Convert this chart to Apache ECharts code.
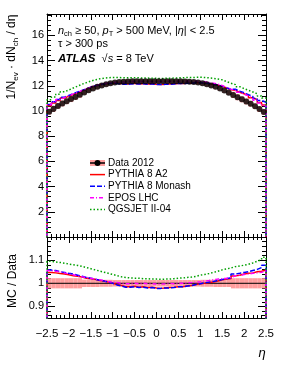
<!DOCTYPE html>
<html><head><meta charset="utf-8">
<script src="https://cdn.jsdelivr.net/npm/echarts@6/dist/echarts.min.js"></script>
<style>html,body{margin:0;padding:0;background:#fff}#c{width:283px;height:366px}</style>
</head><body><div id="c"></div>
<script>
// ---------------- data ----------------
const etaCenters = [-2.45,-2.35,-2.25,-2.15,-2.05,-1.95,-1.85,-1.75,-1.65,-1.55,-1.45,-1.35,-1.25,-1.15,-1.05,-0.95,-0.85,-0.75,-0.65,-0.55,-0.45,-0.35,-0.25,-0.15,-0.05,
  0.05,0.15,0.25,0.35,0.45,0.55,0.65,0.75,0.85,0.95,1.05,1.15,1.25,1.35,1.45,1.55,1.65,1.75,1.85,1.95,2.05,2.15,2.25,2.35,2.45];
const binHalfWidth = 0.05;
const dataVals = [9.95,10.18,10.4,10.6,10.78,10.95,11.12,11.3,11.47,11.64,11.79,11.92,12.03,12.12,12.2,12.26,12.3,12.33,12.35,12.36,12.36,12.37,12.37,12.37,12.37,
  12.37,12.37,12.37,12.37,12.36,12.36,12.35,12.33,12.3,12.26,12.2,12.12,12.03,11.92,11.79,11.62,11.45,11.28,11.1,10.93,10.76,10.58,10.38,10.15,9.92];
const dataRelErr = [0.022,0.022,0.022,0.022,0.022,0.022,0.022,0.022,0.016,0.016,0.016,0.016,0.015,0.015,0.015,0.014,0.014,0.014,0.014,0.014,0.014,0.014,0.014,0.014,0.014,
  0.014,0.014,0.014,0.014,0.014,0.014,0.014,0.014,0.014,0.014,0.015,0.015,0.015,0.016,0.016,0.016,0.016,0.022,0.022,0.022,0.022,0.022,0.022,0.022,0.022];
const ratioA2 = [1.047,1.045,1.042,1.04,1.037,1.033,1.03,1.027,1.022,1.02,1.017,1.012,1.01,1.005,1.0,0.995,0.99,0.985,0.985,0.987,0.983,0.985,0.982,0.983,0.98,
  0.978,0.98,0.982,0.983,0.985,0.985,0.988,0.99,0.995,0.998,1.0,1.003,1.006,1.01,1.015,1.018,1.02,1.032,1.035,1.04,1.043,1.045,1.05,1.052,1.057];
const ratioMonash = [1.057,1.055,1.05,1.047,1.043,1.04,1.035,1.03,1.025,1.022,1.018,1.013,1.01,1.005,1.0,0.993,0.988,0.983,0.983,0.985,0.982,0.983,0.98,0.982,0.978,
  0.978,0.98,0.98,0.982,0.985,0.985,0.988,0.99,0.995,0.998,1.002,1.005,1.008,1.012,1.016,1.02,1.024,1.04,1.043,1.047,1.05,1.055,1.06,1.068,1.078];
const ratioEPOS = [1.055,1.052,1.05,1.045,1.04,1.037,1.032,1.028,1.025,1.022,1.018,1.015,1.012,1.008,1.005,1.003,1.0,0.998,0.998,1.0,0.998,1.0,0.998,0.998,0.997,
  0.997,0.998,1.0,0.998,1.0,1.0,1.002,1.003,1.005,1.007,1.01,1.012,1.015,1.018,1.02,1.022,1.025,1.033,1.035,1.038,1.04,1.043,1.045,1.048,1.053];
const ratioQGS = [1.095,1.092,1.09,1.087,1.083,1.08,1.077,1.073,1.068,1.063,1.058,1.053,1.048,1.043,1.038,1.033,1.028,1.025,1.023,1.022,1.022,1.02,1.02,1.018,1.018,
  1.017,1.018,1.018,1.02,1.022,1.023,1.025,1.027,1.03,1.035,1.038,1.042,1.047,1.052,1.058,1.062,1.066,1.072,1.075,1.078,1.082,1.088,1.095,1.103,1.112];
const seriesNames = ['Data 2012','PYTHIA 8 A2','PYTHIA 8 Monash','EPOS LHC','QGSJET II-04'];
const topYTickLabels = [2,4,6,8,10,12,14,16];
const ratioMajorTicks = [0.9,1.0,1.1];
const ratioMinorTicks = [0.86,0.88,0.92,0.94,0.96,0.98,1.02,1.04,1.06,1.08,1.12,1.14,1.16,1.18];

// ---------------- styles ----------------
const FONT = "'Liberation Sans', Arial, sans-serif";
const PINK = '#ff9e9e';
const mcStyles = [
  {name: seriesNames[1], ratio: ratioA2, color: '#ff0000', type: 'solid'},
  {name: seriesNames[2], ratio: ratioMonash, color: '#0000ff', type: [5, 2]},
  {name: seriesNames[3], ratio: ratioEPOS, color: '#ff00ff', type: [4, 2, 1, 2]},
  {name: seriesNames[4], ratio: ratioQGS, color: '#00a000', type: [1.5, 2]}
];

function histPoints(vals) {
  const pts = [[etaCenters[0] - binHalfWidth, 0]];
  vals.forEach((v, i) => {
    pts.push([etaCenters[i] - binHalfWidth, v]);
    pts.push([etaCenters[i] + binHalfWidth, v]);
  });
  pts.push([etaCenters[etaCenters.length - 1] + binHalfWidth, 0]);
  return pts;
}
function boxItem(params, api) {
  const c = api.value(0), lo = api.value(1), hi = api.value(2);
  const p1 = api.coord([c - binHalfWidth, hi]);
  const p2 = api.coord([c + binHalfWidth, lo]);
  return {type: 'rect', shape: {x: p1[0], y: p1[1], width: p2[0] - p1[0], height: p2[1] - p1[1]},
          style: {fill: PINK}};
}

const topBox = etaCenters.map((c, i) => [c, dataVals[i] * (1 - dataRelErr[i]), dataVals[i] * (1 + dataRelErr[i])]);
const ratioBox = etaCenters.map((c, i) => [c, 1 - dataRelErr[i], 1 + dataRelErr[i]]);

const xBase = (grid, pos, labels) => ({
  type: 'value', gridIndex: grid, position: pos, min: -2.5, max: 2.5, interval: 0.5,
  axisLine: {show: true, onZero: false, lineStyle: {color: '#000', width: 1}},
  axisTick: {show: true, inside: true, length: 6, lineStyle: {color: '#000'}},
  minorTick: {show: true, splitNumber: 5, length: 3, lineStyle: {color: '#000'}},
  splitLine: {show: false},
  axisLabel: {show: labels, margin: 10, fontSize: 11.5, fontFamily: FONT, color: '#000',
    formatter: v => v < 0 ? '\u2212' + (-v) : String(v)}
});
const yTop = (pos, labels) => ({
  type: 'value', gridIndex: 0, position: pos, min: 0, max: 17.7, interval: 2,
  axisLine: {show: true, onZero: false, lineStyle: {color: '#000', width: 1}},
  axisTick: {show: true, inside: true, length: 8, lineStyle: {color: '#000'}},
  minorTick: {show: true, splitNumber: 5, length: 4, lineStyle: {color: '#000'}},
  splitLine: {show: false},
  axisLabel: {show: labels, margin: 3, fontSize: 11, fontFamily: FONT, color: '#000', showMaxLabel: false,
    formatter: v => topYTickLabels.indexOf(v) >= 0 ? String(v) : ''}
});
const yRatio = (pos, ticks, len, labels) => ({
  type: 'value', gridIndex: 1, position: pos, min: 0.85, max: 1.2,
  axisLine: {show: true, onZero: false, lineStyle: {color: '#000', width: 1}},
  axisTick: {show: true, inside: true, length: len, customValues: ticks, lineStyle: {color: '#000'}},
  splitLine: {show: false},
  axisLabel: {show: labels, customValues: ticks, margin: 3, fontSize: 11, fontFamily: FONT, color: '#000'}
});

const series = [];
// top panel
series.push({type: 'custom', xAxisIndex: 0, yAxisIndex: 0, renderItem: boxItem, data: topBox, clip: true, z: 1, silent: true});
mcStyles.forEach(m => series.push({
  type: 'line', name: m.name, xAxisIndex: 0, yAxisIndex: 0, symbol: 'none', clip: true, z: 2,
  data: histPoints(m.ratio.map((r, i) => r * dataVals[i])),
  lineStyle: {color: m.color, width: 1.5, type: m.type}
}));
series.push({type: 'scatter', name: seriesNames[0], xAxisIndex: 0, yAxisIndex: 0, symbol: 'circle', symbolSize: 6,
  itemStyle: {color: '#000'}, data: etaCenters.map((c, i) => [c, dataVals[i]]), z: 5, clip: true});
// ratio panel
series.push({type: 'custom', xAxisIndex: 2, yAxisIndex: 2, renderItem: boxItem, data: ratioBox, clip: true, z: 1, silent: true});
series.push({type: 'line', xAxisIndex: 2, yAxisIndex: 2, symbol: 'none', z: 2, data: [[-2.5, 1], [2.5, 1]],
  lineStyle: {color: '#000', width: 1}});
mcStyles.forEach(m => series.push({
  type: 'line', xAxisIndex: 2, yAxisIndex: 2, symbol: 'none', clip: true, z: 3,
  data: histPoints(m.ratio),
  lineStyle: {color: m.color, width: 1.5, type: m.type}
}));

// legend graphics
const legX = 90, legLen = 15, legTextX = 108, legY0 = 163, legDy = 11.6;
const graphics = [];
graphics.push({type: 'rect', shape: {x: legX, y: legY0 - 3, width: legLen, height: 6}, style: {fill: PINK}});
graphics.push({type: 'line', shape: {x1: legX, y1: legY0, x2: legX + legLen, y2: legY0}, style: {stroke: '#000', lineWidth: 1.5}});
graphics.push({type: 'circle', shape: {cx: legX + legLen / 2, cy: legY0, r: 3}, style: {fill: '#000'}});
mcStyles.forEach((m, i) => {
  const y = legY0 + legDy * (i + 1);
  graphics.push({type: 'line', shape: {x1: legX, y1: y, x2: legX + legLen, y2: y},
    style: {stroke: m.color, lineWidth: 1.5, lineDash: m.type === 'solid' ? null : m.type}});
});
seriesNames.forEach((n, i) => {
  graphics.push({type: 'text', x: legTextX, y: legY0 + legDy * i,
    style: {text: n, fontSize: 10, fontFamily: FONT, fill: '#000', verticalAlign: 'middle', align: 'left'}});
});
const subRich = {
  it: {fontStyle: 'italic', fontSize: 11, fontFamily: FONT, lineHeight: 14},
  sub: {fontSize: 7.5, fontFamily: FONT, verticalAlign: 'bottom', lineHeight: 8}
};
graphics.push({type: 'text', x: 58, y: 31, style: {
  text: '{it|n}{sub|ch} \u2265 50, {it|p}{sub|T} > 500 MeV, |{it|\u03b7}| < 2.5',
  fontSize: 11, fontFamily: FONT, fill: '#000', lineHeight: 14, verticalAlign: 'middle', rich: subRich}});
graphics.push({type: 'text', x: 58, y: 44, style: {text: '\u03c4 > 300 ps', fontSize: 11, fontFamily: FONT,
  fill: '#000', verticalAlign: 'middle'}});
graphics.push({type: 'text', x: 58, y: 59, style: {
  text: '{b|ATLAS}  \u221a{it|s} = 8 TeV', fontSize: 11, fontFamily: FONT, fill: '#000', lineHeight: 14, verticalAlign: 'middle',
  rich: {b: {fontWeight: 'bold', fontStyle: 'italic', fontSize: 11.5, fontFamily: FONT, lineHeight: 14}, it: subRich.it}}});
// axis titles
graphics.push({type: 'text', x: 12, y: 57, rotation: Math.PI / 2, style: {
  text: '1/N{sub|ev} \u00b7 dN{sub|ch} / d\u03b7', fontSize: 12, fontFamily: FONT, fill: '#000', lineHeight: 15,
  align: 'center', verticalAlign: 'middle',
  rich: {sub: {fontSize: 8, fontFamily: FONT, verticalAlign: 'bottom', lineHeight: 8}}}});
graphics.push({type: 'text', x: 13, y: 281, rotation: Math.PI / 2, style: {
  text: 'MC / Data', fontSize: 12, fontFamily: FONT, fill: '#000', align: 'center', verticalAlign: 'middle'}});
graphics.push({type: 'text', x: 262, y: 353, style: {
  text: '\u03b7', fontSize: 13, fontStyle: 'italic', fontFamily: FONT, fill: '#000', align: 'center', verticalAlign: 'middle'}});

const chart = echarts.init(document.getElementById('c'), null, {renderer: 'canvas'});
chart.setOption({
  animation: false,
  backgroundColor: '#fff',
  grid: [
    {left: 47, top: 14, width: 219, height: 223, containLabel: false},
    {left: 47, top: 237, width: 219, height: 81, containLabel: false}
  ],
  xAxis: [xBase(0, 'bottom', false), xBase(0, 'top', false), xBase(1, 'bottom', true), xBase(1, 'top', false)],
  yAxis: [yTop('left', true), yTop('right', false),
    yRatio('left', ratioMajorTicks, 8, true), yRatio('right', ratioMajorTicks, 8, false),
    yRatio('left', ratioMinorTicks, 4, false), yRatio('right', ratioMinorTicks, 4, false)],
  series: series,
  graphic: graphics
});
</script></body></html>
